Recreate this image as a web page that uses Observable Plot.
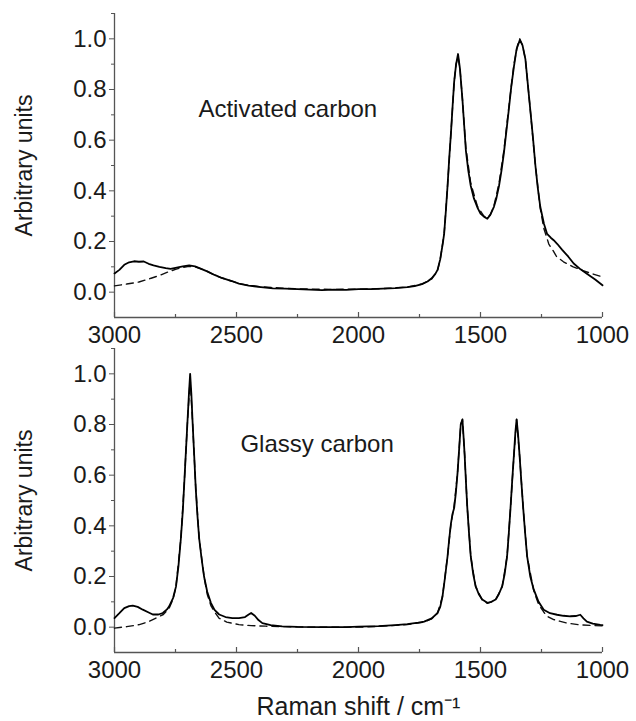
<!DOCTYPE html>
<html>
<head>
<meta charset="utf-8">
<script src="https://cdn.jsdelivr.net/npm/d3@7"></script>
<script src="https://cdn.jsdelivr.net/npm/@observablehq/plot@0.6"></script>
<style>
  html, body { margin: 0; padding: 0; background: white; }
  #chart svg { display: block; }
</style>
</head>
<body>
<div id="chart"></div>
<script>
// ---------- Data ----------
const xTicks = [3000, 2500, 2000, 1500, 1000];
const xMinorTicks = [2750, 2250, 1750, 1250];
const yTicks = [0, 0.2, 0.4, 0.6, 0.8, 1.0];
const yMinorTicks = [0.1, 0.3, 0.5, 0.7, 0.9, 1.1];
const panelTitles = ["Activated carbon", "Glassy carbon"];
const yLabel = "Arbitrary units";
const xLabel = "Raman shift / cm\u207B\u00B9";

// Activated carbon – measured spectrum
const acShift = [3000,2980,2960,2940,2920,2900,2880,2860,2840,2816,2790,2770,2750,2720,2694,2670,2650,2620,2590,2560,2520,2490,2450,2400,2350,2300,2250,2200,2150,2100,2050,2000,1950,1900,1850,1800,1770,1740,1717,1700,1685,1676,1665,1655,1649,1642,1635,1628,1621,1614,1608,1600,1592,1584,1574,1567,1560,1550,1540,1527,1513,1500,1486,1472,1460,1445,1435,1424,1414,1404,1394,1384,1374,1363,1352,1339,1328,1316,1306,1296,1285,1275,1265,1255,1240,1227,1212,1200,1185,1166,1140,1118,1090,1064,1030,1000];
const acMeasured = [0.074,0.088,0.108,0.118,0.122,0.12,0.121,0.112,0.106,0.1,0.095,0.092,0.096,0.102,0.106,0.102,0.094,0.082,0.068,0.056,0.044,0.034,0.026,0.02,0.015,0.014,0.012,0.01,0.008,0.01,0.009,0.012,0.012,0.014,0.016,0.02,0.024,0.032,0.042,0.055,0.072,0.088,0.13,0.19,0.23,0.32,0.42,0.53,0.63,0.74,0.83,0.9,0.94,0.88,0.76,0.66,0.56,0.48,0.42,0.37,0.335,0.31,0.298,0.29,0.305,0.337,0.37,0.42,0.48,0.55,0.635,0.72,0.81,0.89,0.96,0.995,0.975,0.92,0.82,0.72,0.61,0.5,0.41,0.337,0.27,0.23,0.215,0.205,0.19,0.168,0.14,0.113,0.09,0.073,0.05,0.027];

// Activated carbon – fitted curve (dashed)
const acFitShift = [3000,2950,2900,2850,2816,2780,2750,2720,2694,2670,2650,2620,2590,2560,2520,2490,2450,2400,2300,2200,2100,2000,1900,1800,1740,1700,1676,1665,1649,1635,1621,1608,1600,1592,1584,1574,1560,1540,1513,1486,1472,1460,1445,1424,1404,1384,1363,1345,1339,1328,1316,1296,1275,1255,1240,1220,1200,1188,1160,1120,1080,1040,1000];
const acFit = [0.025,0.032,0.04,0.055,0.066,0.08,0.09,0.098,0.102,0.1,0.094,0.082,0.068,0.056,0.044,0.034,0.027,0.021,0.015,0.012,0.011,0.012,0.014,0.02,0.032,0.052,0.085,0.13,0.23,0.42,0.63,0.83,0.9,0.93,0.88,0.76,0.57,0.43,0.34,0.3,0.295,0.305,0.34,0.43,0.56,0.73,0.9,0.99,1.0,0.975,0.92,0.72,0.5,0.33,0.25,0.19,0.16,0.14,0.12,0.1,0.085,0.072,0.06];

// Glassy carbon – measured spectrum
const gcShift = [3000,2980,2960,2940,2925,2905,2884,2860,2843,2820,2802,2785,2776,2760,2748,2738,2728,2720,2714,2707,2701,2695,2690,2685,2680,2673,2667,2660,2653,2643,2633,2620,2605,2590,2571,2545,2517,2490,2465,2450,2440,2425,2410,2394,2360,2313,2250,2150,2050,2000,1918,1850,1800,1755,1731,1700,1676,1665,1656,1645,1635,1628,1621,1614,1608,1601,1594,1587,1581,1574,1570,1565,1560,1554,1547,1540,1530,1520,1507,1493,1472,1455,1438,1425,1411,1401,1391,1384,1377,1370,1363,1357,1352,1346,1340,1333,1325,1317,1309,1296,1282,1262,1241,1215,1186,1160,1132,1110,1091,1078,1064,1040,1009,1000];
const gcMeasured = [0.036,0.055,0.075,0.083,0.085,0.08,0.069,0.058,0.05,0.05,0.056,0.07,0.082,0.115,0.16,0.24,0.35,0.46,0.57,0.7,0.81,0.92,1.0,0.92,0.81,0.67,0.547,0.44,0.35,0.27,0.2,0.14,0.096,0.068,0.05,0.04,0.036,0.036,0.04,0.05,0.056,0.045,0.028,0.016,0.008,0.003,0.001,0.0,0.0,0.002,0.004,0.008,0.012,0.018,0.022,0.035,0.056,0.08,0.12,0.2,0.28,0.35,0.41,0.45,0.47,0.53,0.61,0.71,0.8,0.82,0.76,0.68,0.58,0.47,0.37,0.28,0.21,0.162,0.13,0.109,0.096,0.1,0.109,0.13,0.162,0.21,0.28,0.37,0.47,0.58,0.68,0.77,0.82,0.76,0.68,0.58,0.47,0.37,0.28,0.2,0.149,0.1,0.069,0.055,0.049,0.045,0.043,0.044,0.049,0.035,0.022,0.014,0.009,0.008];

// Glassy carbon – fitted curve (dashed)
const gcFitShift = [3000,2950,2898,2860,2830,2800,2776,2760,2748,2728,2714,2701,2690,2680,2667,2653,2633,2620,2605,2590,2571,2540,2490,2440,2380,2300,2200,2000,1900,1800,1731,1700,1676,1656,1635,1621,1608,1594,1581,1574,1565,1554,1540,1520,1493,1472,1438,1411,1391,1377,1363,1352,1340,1325,1309,1282,1262,1241,1227,1200,1145,1100,1050,1000];
const gcFit = [-0.004,0.002,0.01,0.022,0.036,0.05,0.075,0.11,0.16,0.35,0.57,0.81,0.98,0.81,0.55,0.35,0.2,0.13,0.085,0.06,0.035,0.02,0.01,0.006,0.004,0.002,0.0,0.0,0.004,0.01,0.02,0.033,0.056,0.12,0.28,0.41,0.48,0.61,0.8,0.82,0.68,0.47,0.28,0.16,0.107,0.094,0.107,0.16,0.28,0.47,0.68,0.82,0.68,0.47,0.28,0.145,0.09,0.06,0.043,0.03,0.016,0.01,0.007,0.005];

// ---------- Drawing ----------
const W = 636;
const font = "'Liberation Sans', Arial, Helvetica, sans-serif";
const ink = "#1a1a1a";
const axisInk = "#555";
const titleX = {"Activated carbon": 2656, "Glassy carbon": 2484};

function pairs(xs, ys) { return xs.map((x, i) => ({x, y: ys[i]})); }

function panel({title, measured, fit, height, marginTop, marginBottom, showXLabel}) {
  const innerH = height - marginTop - marginBottom;
  const marks = [
    Plot.ruleX([3000], {y1: -0.1, y2: 1.1, stroke: axisInk, strokeWidth: 1.3}),
    Plot.ruleY([-0.1], {x1: 3000, x2: 1000, stroke: axisInk, strokeWidth: 1.3}),
    Plot.tickX(xTicks, {x: d => d, insetTop: innerH - 5, stroke: axisInk, strokeWidth: 1.2}),
    Plot.tickX(xMinorTicks, {x: d => d, insetTop: innerH - 3, stroke: axisInk, strokeWidth: 1.2}),
    Plot.axisX({ticks: xTicks, tickSize: 0, tickPadding: 8, tickFormat: d => String(d), fontSize: 24, fill: ink, label: null, style: {letterSpacing: "0.5px"}}),
    Plot.axisY({ticks: yTicks, tickSize: 5, tickPadding: 3, tickFormat: d => d.toFixed(1), fontSize: 24, fill: ink, stroke: axisInk, label: null}),
    Plot.axisY({ticks: yMinorTicks, tickSize: 3, text: null, stroke: axisInk, label: null}),
    Plot.text([yLabel], {frameAnchor: "left", dx: -90, rotate: -90, textAnchor: "middle", lineAnchor: "middle", fontSize: 23, fill: ink}),
    Plot.text([title], {x: titleX[title], y: 0.72, textAnchor: "start", fontSize: 24, fill: ink}),
    Plot.line(fit, {x: "x", y: "y", stroke: "#111", strokeWidth: 1.4, strokeDasharray: "7,5"}),
    Plot.line(measured, {x: "x", y: "y", stroke: "#000", strokeWidth: 1.8})
  ];
  if (showXLabel) {
    marks.push(Plot.text([xLabel], {frameAnchor: "bottom", dy: 54, textAnchor: "middle", lineAnchor: "middle", fontSize: 25, fill: ink}));
  }
  return Plot.plot({
    width: W,
    height,
    marginLeft: 114,
    marginRight: 34,
    marginTop,
    marginBottom,
    style: {fontFamily: font, background: "white", color: ink, overflow: "visible"},
    x: {domain: [3000, 1000], axis: null},
    y: {domain: [-0.1, 1.1], axis: null},
    marks
  });
}

const chart = document.getElementById("chart");
chart.appendChild(panel({
  title: panelTitles[0],
  measured: pairs(acShift, acMeasured),
  fit: pairs(acFitShift, acFit),
  height: 346, marginTop: 13, marginBottom: 29, showXLabel: false
}));
chart.appendChild(panel({
  title: panelTitles[1],
  measured: pairs(gcShift, gcMeasured),
  fit: pairs(gcFitShift, gcFit),
  height: 375, marginTop: 2, marginBottom: 69, showXLabel: true
}));
</script>
</body>
</html>
